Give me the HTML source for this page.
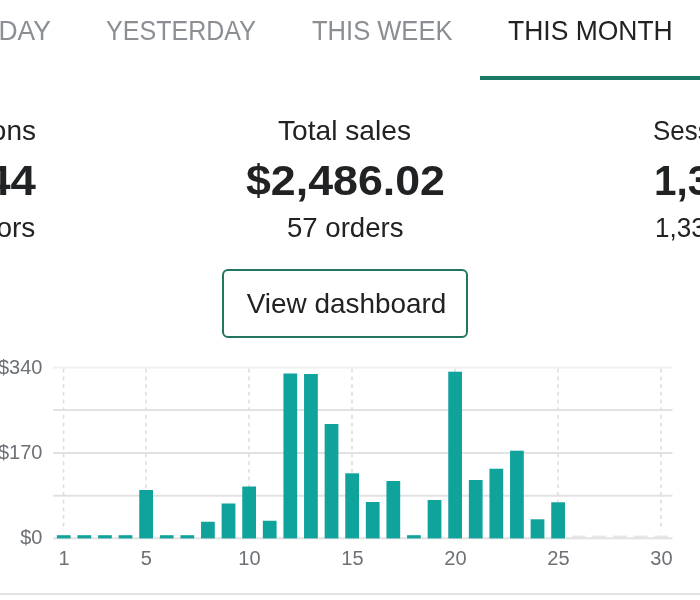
<!DOCTYPE html>
<html lang="en">
<head>
<meta charset="utf-8">
<title>Dashboard</title>
<style>
html,body{margin:0;padding:0;}
body{width:700px;height:600px;overflow:hidden;background:#fff;position:relative;font-family:"Liberation Sans",sans-serif;color:#202223;}
.t{position:absolute;white-space:nowrap;line-height:1;}
.tab{color:#8b8f93;}
.tab.on{color:#202223;}
.ul{position:absolute;left:480px;top:76px;width:220px;height:4px;background:#1b7a63;}
.lab{font-size:28px;}
.big{font-size:42px;font-weight:bold;}
.btn{position:absolute;left:222px;top:269px;width:246px;height:69px;box-sizing:border-box;border:2px solid #22755f;border-radius:6px;background:#fff;}
.btn span{position:absolute;left:3px;right:0;text-align:center;top:19px;font-size:27.5px;line-height:1;transform:scaleX(1.015);}
.div{position:absolute;left:0;top:593.2px;width:700px;height:2px;background:#e3e4e6;}
svg text{font-family:"Liberation Sans",sans-serif;font-size:20px;fill:#6d7175;}
</style>
</head>
<body>
<div class="t tab" id="t1" style="right:649px;transform-origin:100% 50%;top:16.5px;font-size:28px;transform:scaleX(0.945)">TODAY</div>
<div class="t tab" id="t2" style="left:105.8px;transform-origin:0 50%;top:16.5px;font-size:28px;transform:scaleX(0.895)">YESTERDAY</div>
<div class="t tab" id="t3" style="left:312.3px;transform-origin:0 50%;top:16.5px;font-size:28px;transform:scaleX(0.912)">THIS WEEK</div>
<div class="t tab on" id="t4" style="left:507.5px;transform-origin:0 50%;top:16.5px;font-size:28px;transform:scaleX(0.9455)">THIS MONTH</div>
<div class="t lab" id="l1" style="right:664px;transform-origin:100% 50%;top:117px;font-size:28px;transform:scaleX(1.0)">Conversions</div>
<div class="t big" id="l2" style="right:664.5px;transform-origin:100% 50%;top:159.2px;font-size:43px;transform:scaleX(1.06)">44</div>
<div class="t lab" id="l3" style="right:664.7px;transform-origin:100% 50%;top:214px;font-size:28px;transform:scaleX(1.0)">1,257 visitors</div>
<div class="t lab" id="c1" style="left:278.3px;transform-origin:0 50%;top:117px;font-size:28px;transform:scaleX(1.005)">Total sales</div>
<div class="t big" id="c2" style="left:246px;transform-origin:0 50%;top:159.2px;font-size:43px;transform:scaleX(1.04)">$2,486.02</div>
<div class="t lab" id="c3" style="left:287px;transform-origin:0 50%;top:214px;font-size:28px;transform:scaleX(0.985)">57 orders</div>
<div class="t lab" id="r1" style="left:653px;transform-origin:0 50%;top:117px;font-size:28px;transform:scaleX(0.925)">Sessions</div>
<div class="t big" id="r2" style="left:654px;transform-origin:0 50%;top:159.2px;font-size:43px;transform:scaleX(0.94)">1,338</div>
<div class="t lab" id="r3" style="left:654.8px;transform-origin:0 50%;top:214px;font-size:28px;transform:scaleX(0.93)">1,338 visitors</div>
<div class="ul"></div>

<div class="btn"><span id="b1">View dashboard</span></div>

<svg width="700" height="600" viewBox="0 0 700 600" style="position:absolute;left:0;top:0">
<rect x="53" y="366.60" width="619.5" height="2" fill="#eff0f1"/>
<rect x="53" y="409.00" width="619.5" height="2" fill="#e1e2e4"/>
<rect x="53" y="452.00" width="619.5" height="2" fill="#e1e2e4"/>
<rect x="53" y="494.70" width="619.5" height="2" fill="#e1e2e4"/>
<rect x="53" y="537.30" width="619.5" height="2" fill="#e1e2e4"/>
<line x1="63.60" y1="368.8" x2="63.60" y2="531" stroke="#dadcde" stroke-width="1.5" stroke-dasharray="3.8 3.9"/>
<line x1="146.00" y1="368.8" x2="146.00" y2="531" stroke="#dadcde" stroke-width="1.5" stroke-dasharray="3.8 3.9"/>
<line x1="249.00" y1="368.8" x2="249.00" y2="531" stroke="#dadcde" stroke-width="1.5" stroke-dasharray="3.8 3.9"/>
<line x1="352.00" y1="368.8" x2="352.00" y2="531" stroke="#dadcde" stroke-width="1.5" stroke-dasharray="3.8 3.9"/>
<line x1="455.00" y1="368.8" x2="455.00" y2="531" stroke="#dadcde" stroke-width="1.5" stroke-dasharray="3.8 3.9"/>
<line x1="558.00" y1="368.8" x2="558.00" y2="531" stroke="#dadcde" stroke-width="1.5" stroke-dasharray="3.8 3.9"/>
<line x1="661.00" y1="368.8" x2="661.00" y2="531" stroke="#dadcde" stroke-width="1.5" stroke-dasharray="3.8 3.9"/>
<rect x="56.85" y="535.20" width="13.75" height="3.20" fill="#0fa39c"/>
<rect x="77.45" y="535.20" width="13.75" height="3.20" fill="#0fa39c"/>
<rect x="98.05" y="535.20" width="13.75" height="3.20" fill="#0fa39c"/>
<rect x="118.65" y="535.20" width="13.75" height="3.20" fill="#0fa39c"/>
<rect x="139.25" y="490.00" width="13.75" height="48.40" fill="#0fa39c"/>
<rect x="159.85" y="535.20" width="13.75" height="3.20" fill="#0fa39c"/>
<rect x="180.45" y="535.20" width="13.75" height="3.20" fill="#0fa39c"/>
<rect x="201.05" y="521.75" width="13.75" height="16.65" fill="#0fa39c"/>
<rect x="221.65" y="503.50" width="13.75" height="34.90" fill="#0fa39c"/>
<rect x="242.25" y="486.50" width="13.75" height="51.90" fill="#0fa39c"/>
<rect x="262.85" y="520.75" width="13.75" height="17.65" fill="#0fa39c"/>
<rect x="283.45" y="373.50" width="13.75" height="164.90" fill="#0fa39c"/>
<rect x="304.05" y="374.00" width="13.75" height="164.40" fill="#0fa39c"/>
<rect x="324.65" y="424.00" width="13.75" height="114.40" fill="#0fa39c"/>
<rect x="345.25" y="473.30" width="13.75" height="65.10" fill="#0fa39c"/>
<rect x="365.85" y="502.00" width="13.75" height="36.40" fill="#0fa39c"/>
<rect x="386.45" y="481.00" width="13.75" height="57.40" fill="#0fa39c"/>
<rect x="407.05" y="535.20" width="13.75" height="3.20" fill="#0fa39c"/>
<rect x="427.65" y="500.00" width="13.75" height="38.40" fill="#0fa39c"/>
<rect x="448.25" y="371.70" width="13.75" height="166.70" fill="#0fa39c"/>
<rect x="468.85" y="480.00" width="13.75" height="58.40" fill="#0fa39c"/>
<rect x="489.45" y="468.70" width="13.75" height="69.70" fill="#0fa39c"/>
<rect x="510.05" y="450.70" width="13.75" height="87.70" fill="#0fa39c"/>
<rect x="530.65" y="519.30" width="13.75" height="19.10" fill="#0fa39c"/>
<rect x="551.25" y="502.30" width="13.75" height="36.10" fill="#0fa39c"/>
<rect x="571.85" y="535.6" width="13.75" height="2.6" fill="#e5e6e8"/>
<rect x="592.45" y="535.6" width="13.75" height="2.6" fill="#e5e6e8"/>
<rect x="613.05" y="535.6" width="13.75" height="2.6" fill="#e5e6e8"/>
<rect x="633.65" y="535.6" width="13.75" height="2.6" fill="#e5e6e8"/>
<rect x="654.25" y="535.6" width="13.75" height="2.6" fill="#e5e6e8"/>
<text x="42.5" y="373.6" text-anchor="end">$340</text>
<text x="42.5" y="458.5" text-anchor="end">$170</text>
<text x="42.5" y="544.2" text-anchor="end">$0</text>
<text x="64.00" y="564.8" text-anchor="middle">1</text>
<text x="146.40" y="564.8" text-anchor="middle">5</text>
<text x="249.40" y="564.8" text-anchor="middle">10</text>
<text x="352.40" y="564.8" text-anchor="middle">15</text>
<text x="455.40" y="564.8" text-anchor="middle">20</text>
<text x="558.40" y="564.8" text-anchor="middle">25</text>
<text x="661.40" y="564.8" text-anchor="middle">30</text>
</svg>
<div class="div"></div>
</body>
</html>
